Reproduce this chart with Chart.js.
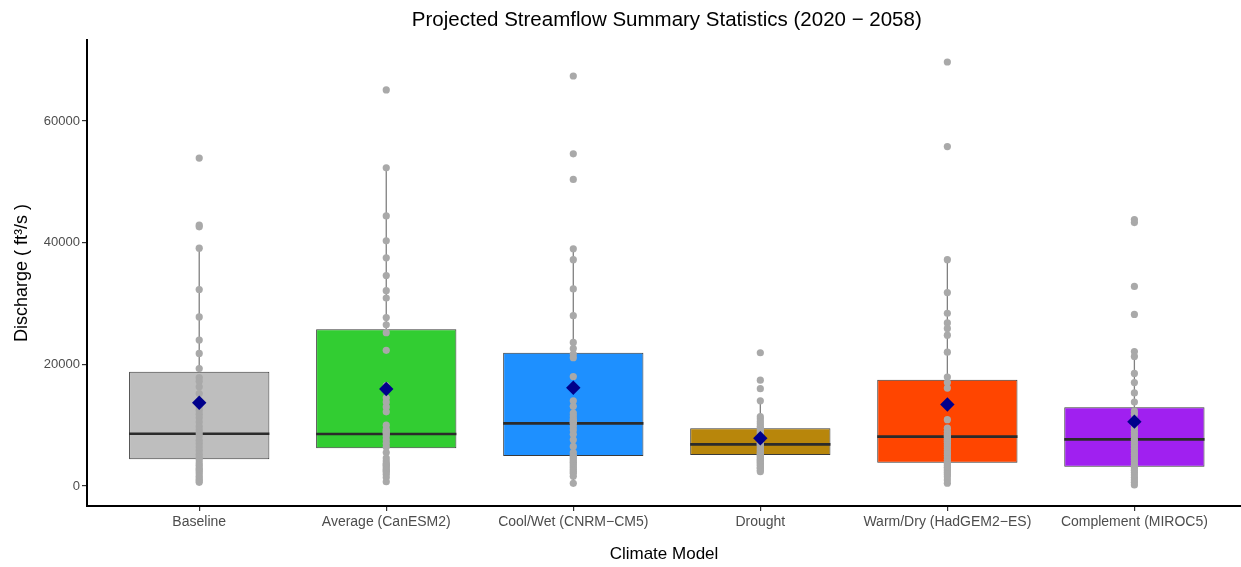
<!DOCTYPE html>
<html>
<head>
<meta charset="utf-8">
<script src="https://cdn.jsdelivr.net/npm/chart.js@4.4.1/dist/chart.umd.min.js"></script>
<style>
  html, body { margin: 0; padding: 0; background: #ffffff; overflow: hidden; }
  #wrap { width: 1241px; height: 567px; }
</style>
</head>
<body>
<div id="wrap"><canvas id="flowChart" width="1241" height="567"></canvas></div>
<script>
// Text
const TITLE = 'Projected Streamflow Summary Statistics (2020 \u2212 2058)';
const X_TITLE = 'Climate Model';
const Y_TITLE = 'Discharge ( ft\u00b3/s )';

// Categories and tick labels
const categories = [
  'Baseline',
  'Average (CanESM2)',
  'Cool/Wet (CNRM\u2212CM5)',
  'Drought',
  'Warm/Dry (HadGEM2\u2212ES)',
  'Complement (MIROC5)'
];
const yTicks = [0, 20000, 40000, 60000];

// Box summary statistics (ft3/s)
const q1          = [4390, 6190, 4930, 5100, 3830, 3180];
const medians     = [8600, 8550, 10300, 6850, 8110, 7670];
const q3          = [18800, 25760, 21920, 9480, 17480, 12930];
const whiskerLow  = [600, 700, 440, 2360, 450, 160];
const whiskerHigh = [39100, 52300, 39000, 14000, 37200, 22100];
const means       = [13680, 15950, 16160, 7840, 13400, 10580];

// Annual discharge values per scenario
const baselineFlows = [53900, 42900, 42600, 39100, 32300, 27800, 24000, 21800, 19300, 17800,
  17200, 16300, 15200, 13000, 12400, 11800, 11200, 10500, 9800, 9200,
  8700, 8200, 7500, 7000, 6400, 5800, 5200, 4700, 4300, 3800,
  3400, 3000, 2700, 2400, 2000, 1600, 1200, 900, 600];
const averageFlows = [65100, 52300, 44400, 40300, 37500, 34600, 32100, 30900, 27700, 26500,
  25200, 22300, 16500, 14500, 13800, 13000, 12200, 10000, 9300, 9000,
  8800, 8600, 8200, 7600, 7000, 6400, 5500, 4600, 4100, 3700,
  3500, 3300, 3000, 2700, 2500, 2300, 1900, 1400, 700];
const coolWetFlows = [67400, 54600, 50400, 39000, 37200, 32400, 28000, 23600, 22600, 21700,
  21100, 18000, 14000, 13100, 12000, 11500, 11000, 10700, 10500, 10300,
  9800, 9200, 8500, 7600, 6500, 5500, 5000, 4800, 4500, 4200,
  3900, 3600, 3300, 3000, 2700, 2400, 2100, 1600, 440];
const droughtFlows = [21900, 17400, 16000, 14000, 11400, 11000, 10600, 10200, 9800, 9500,
  9100, 8800, 8500, 8200, 7900, 7600, 7300, 7000, 6900, 6700,
  6400, 6100, 5900, 5600, 5400, 5200, 5000, 4800, 4600, 4400,
  4200, 4000, 3800, 3600, 3400, 3100, 2900, 2600, 2360];
const warmDryFlows = [69700, 55800, 37200, 31800, 28400, 26800, 25900, 24800, 22000, 17900,
  17000, 16100, 10900, 9500, 9000, 8600, 8300, 8100, 7800, 7500,
  7200, 6800, 6400, 6000, 5600, 5200, 4800, 4400, 4000, 3700,
  3400, 3100, 2800, 2500, 2200, 1900, 1500, 1000, 450];
const complementFlows = [43800, 43300, 32800, 28200, 22100, 21300, 18500, 17000, 15300, 13800,
  12300, 11800, 11000, 10500, 10000, 9500, 9000, 8600, 8200, 7700,
  7300, 7000, 6600, 6200, 5800, 5400, 5000, 4600, 4200, 3800,
  3400, 3000, 2600, 2200, 1800, 1400, 1000, 600, 160];

const observations = [baselineFlows, averageFlows, coolWetFlows, droughtFlows, warmDryFlows, complementFlows];

// Styling
const boxColors = ['#bebebe', '#32cd32', '#1e90ff', '#b8860b', '#ff4500', '#a020f0'];
const BOX_WIDTH = 0.75;          // box width in category units
const FONT = '"Liberation Sans", Arial, Helvetica, sans-serif';

// Build dataset records from the arrays above
const boxData = categories.map((_, i) => ({ x: i, y: [q1[i], q3[i]] }));

const medianData = [];
categories.forEach((_, i) => {
  medianData.push({ x: i - BOX_WIDTH / 2, y: medians[i] },
                  { x: i + BOX_WIDTH / 2, y: medians[i] },
                  { x: i, y: null });
});

const whiskerData = [];
categories.forEach((_, i) => {
  whiskerData.push({ x: i, y: q3[i] }, { x: i, y: whiskerHigh[i] }, { x: i, y: null },
                   { x: i, y: q1[i] }, { x: i, y: whiskerLow[i] }, { x: i, y: null });
});

const pointData = observations.flatMap((vals, i) => vals.map(v => ({ x: i, y: v })));
const meanData = means.map((m, i) => ({ x: i, y: m }));

// Plot title centred over the full panel (-0.6 .. 5.6 in category units)
const plotTitle = {
  id: 'plotTitle',
  afterDraw(chart) {
    const { ctx, scales } = chart;
    const xs = scales.x;
    const cx = (xs.getPixelForValue(-0.6) + xs.getPixelForValue(5.6)) / 2;
    ctx.save();
    ctx.font = '20.5px ' + FONT;
    ctx.fillStyle = '#000000';
    ctx.textAlign = 'center';
    ctx.textBaseline = 'middle';
    ctx.fillText(TITLE, cx, 20);
    ctx.restore();
  }
};

Chart.defaults.font.family = FONT;

new Chart(document.getElementById('flowChart'), {
  type: 'bar',
  data: {
    datasets: [
      {
        type: 'line',
        data: whiskerData,
        borderColor: '#808080',
        borderWidth: 1.3,
        pointRadius: 0,
        spanGaps: false,
        order: 5
      },
      {
        type: 'bar',
        data: boxData,
        backgroundColor: boxColors,
        borderColor: '#3a3a3a',
        borderWidth: 1,
        borderSkipped: false,
        grouped: false,
        categoryPercentage: 1,
        barPercentage: BOX_WIDTH,
        order: 4
      },
      {
        type: 'line',
        data: medianData,
        borderColor: '#2b2b2b',
        borderWidth: 2.6,
        borderCapStyle: 'butt',
        pointRadius: 0,
        spanGaps: false,
        order: 3
      },
      {
        type: 'scatter',
        data: pointData,
        showLine: false,
        pointRadius: 3.6,
        pointBackgroundColor: '#a9a9a9',
        pointBorderWidth: 0,
        order: 2
      },
      {
        type: 'scatter',
        data: meanData,
        showLine: false,
        pointStyle: 'rectRot',
        pointRadius: 7.2,
        pointBackgroundColor: '#00008b',
        pointBorderWidth: 0,
        order: 1
      }
    ]
  },
  options: {
    responsive: false,
    animation: false,
    events: [],
    layout: { autoPadding: false, padding: { top: 40, left: 0, right: 0, bottom: 0 } },
    plugins: {
      legend: { display: false },
      tooltip: { enabled: false }
    },
    scales: {
      x: {
        type: 'linear',
        min: -0.6,
        max: 5.57,
        offset: false,
        grid: { display: true, offset: false, drawOnChartArea: false, drawTicks: true, tickLength: 5, color: '#333333', lineWidth: 1.2 },
        border: { display: true, color: '#000000', width: 2 },
        afterBuildTicks: (scale) => { scale.ticks = categories.map((_, i) => ({ value: i })); },
        ticks: {
          autoSkip: false,
          maxRotation: 0,
          padding: 3,
          color: '#4d4d4d',
          font: { size: 14 },
          callback: (v) => categories[v]
        },
        title: {
          display: true,
          text: X_TITLE,
          color: '#000000',
          font: { size: 17 },
          padding: { top: 0, bottom: 2 }
        },
        afterFit: (scale) => { scale.height = 61; scale.paddingLeft = 0; scale.paddingRight = 0; }
      },
      y: {
        type: 'linear',
        min: -3288,
        max: 73315,
        grid: { display: true, drawOnChartArea: false, drawTicks: true, tickLength: 5, color: '#333333', lineWidth: 1.2 },
        border: { display: true, color: '#000000', width: 2 },
        afterBuildTicks: (scale) => { scale.ticks = yTicks.map(v => ({ value: v })); },
        ticks: {
          padding: 2,
          color: '#4d4d4d',
          font: { size: 13 },
          callback: (v) => String(v)
        },
        title: {
          display: true,
          text: Y_TITLE,
          color: '#000000',
          font: { size: 18 },
          padding: { top: 11, bottom: 0 }
        },
        afterFit: (scale) => { scale.width = 87; scale.paddingTop = 0; scale.paddingBottom = 0; }
      }
    }
  },
  plugins: [plotTitle]
});
</script>
</body>
</html>
